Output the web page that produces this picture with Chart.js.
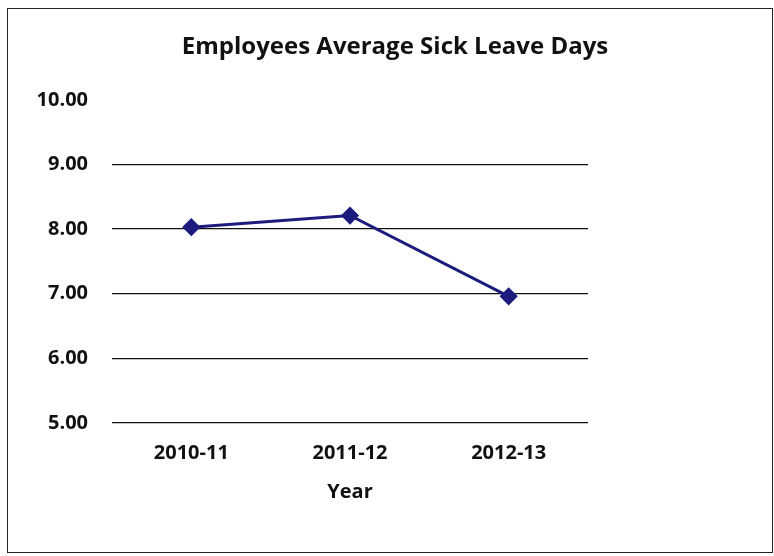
<!DOCTYPE html>
<html>
<head>
<meta charset="utf-8">
<script src="https://cdn.jsdelivr.net/npm/chart.js@4"></script>
<style>
  html, body { margin: 0; padding: 0; background: #fff; }
  #wrap { position: relative; width: 774px; height: 556px; }
  #frame { position: absolute; left: 7px; top: 8px; width: 764px; height: 543px; border: 1px solid #222; pointer-events: none; }
</style>
</head>
<body>
<div id="wrap">
  <canvas id="sickChart" width="774" height="556"></canvas>
  <div id="frame"></div>
</div>
<script>
const years = ['2010-11', '2011-12', '2012-13'];
const sickDays = [8.03, 8.21, 6.96];
const yTicks = [5, 6, 7, 8, 9, 10];

const fontFam = "'Open Sans', 'Liberation Sans', sans-serif";
const ctx = document.getElementById('sickChart').getContext('2d');

new Chart(ctx, {
    type: 'line',
    data: {
        labels: years,
        datasets: [{
            label: 'Average Sick Leave Days',
            data: sickDays,
            yAxisID: 'y',
            borderColor: '#1c1c7e',
            backgroundColor: '#1c1c7e',
            borderWidth: 3,
            pointStyle: 'rectRot',
            pointRadius: 7,
            tension: 0
        }]
    },
    options: {
        responsive: false,
        animation: false,
        layout: { padding: { left: 30, right: 14, bottom: 52, top: 0 } },
        scales: {
            x: {
                offset: true,
                grid: { display: false, drawTicks: false },
                border: { display: false },
                ticks: { color: '#111', padding: 18, font: { family: fontFam, size: 20, weight: 'bold' } },
                title: { display: true, text: 'Year', color: '#111', padding: { top: -3, bottom: 0 }, font: { family: fontFam, size: 20, weight: 'bold' } }
            },
            y: {
                min: 5,
                max: 10,
                afterBuildTicks: axis => { axis.ticks = yTicks.map(v => ({ value: v })); },
                afterFit: axis => { axis.width = 82; },
                grid: {
                    drawTicks: false,
                    color: c => c.tick && c.tick.value === 10 ? 'rgba(0,0,0,0)' : '#111',
                    lineWidth: 1.2
                },
                border: { display: false },
                ticks: {
                    color: '#111',
                    padding: 24,
                    font: { family: fontFam, size: 20, weight: 'bold' },
                    callback: v => v.toFixed(2)
                }
            },
            // empty right-hand space, as in the original
            yRight: {
                position: 'right',
                min: 5,
                max: 10,
                grid: { display: false, drawTicks: false },
                border: { display: false },
                ticks: { display: false },
                afterFit: axis => { axis.width = 172; }
            }
        },
        plugins: {
            legend: { display: false },
            tooltip: { enabled: false },
            title: {
                display: true,
                text: 'Employees Average Sick Leave Days',
                color: '#111',
                padding: { top: 33, bottom: 38 },
                font: { family: fontFam, size: 24, weight: 'bold' }
            }
        }
    }
});
</script>
</body>
</html>
